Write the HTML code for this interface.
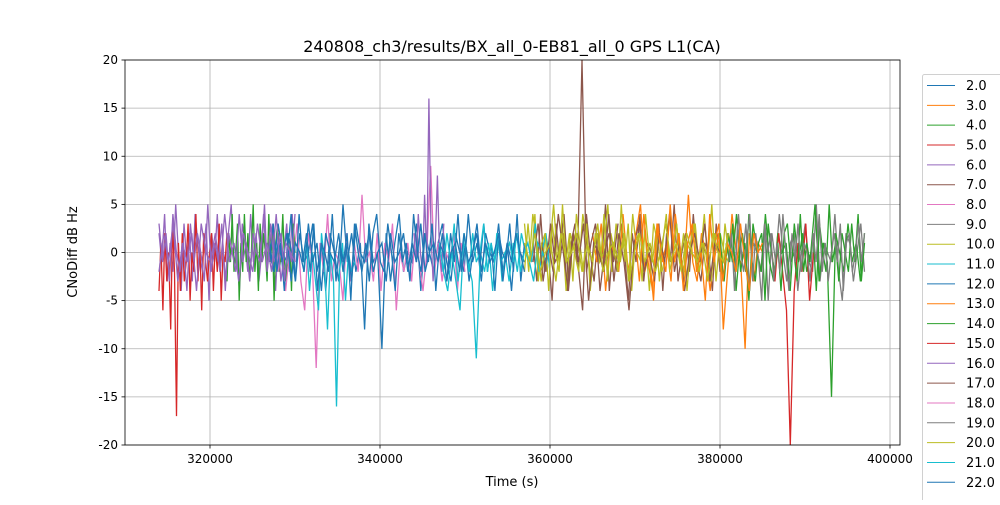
<!DOCTYPE html>
<html><head><meta charset="utf-8"><style>
body{margin:0;background:#fff;font-family:"Liberation Sans","DejaVu Sans",sans-serif;}
</style></head><body>
<svg id="chart" width="1000" height="500" xmlns="http://www.w3.org/2000/svg">
<rect width="1000" height="500" fill="#fff"/>
<text x="512" y="52" text-anchor="middle" font-size="16" fill="#000" font-family="DejaVu Sans, Liberation Sans, sans-serif">240808_ch3/results/BX_all_0-EB81_all_0 GPS L1(CA)</text>
<g id="grid"></g><g id="series"></g><g id="axes"></g><g id="legend"></g>
</svg>
<script>
const xTicks=[320000,340000,360000,380000,400000];
const yTicks=[-20,-15,-10,-5,0,5,10,15,20];
const legendLabels=["2.0","3.0","4.0","5.0","6.0","7.0","8.0","9.0","10.0","11.0","12.0","13.0","14.0","15.0","16.0","17.0","18.0","19.0","20.0","21.0","22.0"];
const seriesColors=["#1f77b4","#ff7f0e","#2ca02c","#d62728","#9467bd","#8c564b","#e377c2","#7f7f7f","#bcbd22","#17becf"];
const seriesStart=[314000,322000,314000,358000,327000,328000,365000,380000,380000,357000,331000,347000,344000,359000,386000,
327000,357000,380000,381000,314000,347000,358000,370000,327000,357000,314000];
const seriesEnd=[330000,330000,322000,380000,357000,350000,385000,397000,397000,381000,337000,360000,347500,368000,391000,
357000,381000,397000,397000,330000,360000,380000,385000,357000,381000,330000];
const seriesColorIdx=[4,2,3,5,0,6,1,7,2,8,9,9,4,5,3,0,8,2,7,4,9,5,1,0,8,4];
const seriesValues=[
[2,-1,4,-3,1,-2,5,0,-4,3,-1,2,-3,4,1,-2,0,3,-5,2,-1,4,-2,1,-3,2,5,-1,0,-4,3,1,-2,4,-1,2,-3,0,5,-2,1,3,-4,2,-1,0,3,-2,4,-1],
[-3,2,-1,4,-2,0,3,-5,1,-2,4,-1,2,-3,0,5,-2,1,-4,3,-1,2,0,-3,4,-1,2,-5,1,3,-2,0,4,-1,-3,2,1,-4,3,0],
[-4,1,-6,2,-3,0,-8,3,-2,-17,1,-4,2,-3,-1,3,-5,0,-2,4,-3,1,-6,2,-1,-3,0,2,-4,1,-2,3,-5,0,-1,2],
[1,-3,4,-2,0,-5,3,-1,2,-4,1,3,-2,-6,4,0,-3,2,-1,5,-4,1,-2,3,0,-5,2,-1,4,-3,1,0,-2,3,-4,2,-1,5,-3,0,2,-2,4,-1,-3,1,0,-4,3,-2],
[1,-2,3,0,-1,4,-3,2,-1,0,3,-2,1,-4,2,0,-3,5,-1,2,-2,1,-8,3,-1,0,-10,2,-3,1,4,-2,0,-1,3,-4,2,0,-2,1,3,-1,-3,2,0,-2,4,-1,1,-3,2,0,-1,3,-2,1,-4,2,0,-1],
[-2,1,-4,0,-1,3,-3,-6,2,-1,-12,1,-2,4,-3,0,-1,-5,2,-3,1,-2,6,-1,0,-3,2,-4,1,-1,3,-6,0,-2,1,-3,2,-1,-4,0,9,-2,1,-3,0,-1,2,-4,1,-2],
[2,-1,3,-4,1,0,-2,4,-1,-3,2,5,-2,0,-5,3,-1,1,-3,4,0,-2,6,-1,-3,2,0,-4,1,3,-8,-2,4,0,-1,-10,2,-3,1,0],
[1,-3,2,0,-2,4,-1,3,-4,1,0,-2,3,-5,2,-1,4,0,-3,1,2,-4,0,3,-1,-2,5,-3,1,0,-1,4,-2,-5,2,1,-3,0,3,-2],
[0,-3,2,-1,4,-2,1,-5,3,0,-2,4,-1,-3,2,0,1,-4,3,-1,2,-2,0,5,-3,1,-1,-15,2,0,-2,3,-1,1,-3,2],
[3,-2,4,1,-3,2,0,5,-1,3,-4,2,0,-2,4,1,-3,2,-1,0,5,-2,3,-1,2,-3,4,0,-1,2,-4,3,1,-2,0,4,-1,2,-3,1,0,3,-2,1,-1,5,-3,2,0,-1],
[-2,1,-4,0,-3,-6,2,-1,-8,0,-3,-16,-2,1,-5,0,-2,-1],
[1,-2,-4,0,-3,-6,2,-1,-3,-11,0,-2,1,-4,2,-1,0,-3,1,-2,2,0,-1,-3,1,0,2,-2],
[2,-1,4,0,-2,6,-1,16,2,-3,1,8,0,-2,3],
[1,-2,3,-1,0,4,-3,2,-1,20,-2,1,3,-4,0,2,-1,3],
[1,-3,2,-2,-6,-20,-4,1,-2,3,-5,0],
[-1,3,-2,1,-4,2,0,-3,4,-1,2,-2,3,-4,1,0,-2,4,-3,1,-1,2,-5,3,0,-2,1,-3,2,4,-1,-2,3,0,-4,2,-1,1,-3,4,0,-2,2,-1,3,-4,1,0,-3,2,-1,4,-2,1,-3,0,2,-1,3,-2,1,-4,2,0,-1,3,-2,4,-3,1],
[-2,3,-1,4,-3,1,2,-4,3,0,-2,5,-1,2,-3,4,1,-2,3,-4,0,2,-1,4,-3,2,0,-2,5,-1,3,-4,1,2,-3,4,0,-1,2,-3,1,4,-2,0,3,-1,2,-4,1,3,-2,0,4,-1,-3,2,1,-2,3,0],
[2,-3,1,-1,3,-4,0,2,-2,4,-1,-3,1,2,-5,3,0,-2,1,-4,2,3,-1,0,-3,4,-2,1,-1,2,-4,3,0,-2,5,-1,1,-3,2,0,-2,3,-1,4,-3,1],
[-1,2,-4,3,0,-2,1,4,-3,2,-1,-5,3,0,2,-3,1,-2,4,0,-4,2,-1,3,-2,1,0,-3,2,-1,4,-2,1,-3,0,2,-1,3,-4,1,2,-2,0,3,-1,2],
[3,-1,2,-3,4,0,-2,1,-4,3,-1,2,0,-3,5,-2,1,-1,3,-4,2,0,-2,4,-1,1,-3,2,0,-1,4,-2,3,-1,0,2,-3,1,-1,4],
[1,-2,2,-1,3,-3,0,1,-2,2,-1,0,3,-2,1,-1,2,-3,0,1,-1,2,-2,0,1,-1,3,-2,0,-1,1],
[-1,3,-3,1,-2,4,0,-4,2,-1,3,-5,1,0,-2,4,-3,2,-1,-6,1,3,-2,0,-3,2,-1,4,-2,1,-4,0,2,-1,3,-3,1,0],
[2,-3,4,-1,-4,3,0,-2,5,-1,2,-4,1,3,-2,0,-5,4,-1,2,-3,1,0,-2,3,-1,-4,2,0,1],
[0,-2,1,-1,2,-3,1,0,-2,3,-1,1,-4,2,0,-1,2,-2,1,-3,3,0,-1,2,-2,0,1,-3,2,-1,0,2,-2,1,-1,3,-2,0,1,-1,2,-3,0,1,-2,2,-1,0,3,-2,1,-1,0,2,-3,1,-1,2,0,-2],
[1,-1,2,-2,0,1,-3,2,-1,0,2,-2,1,-1,3,-2,0,1,-1,2,-3,0,2,-1,1,-2,0,3,-1,1,-2,2,0,-1,1,-3,2,0,-1,2],
[-2,2,-1,3,-3,1,-1,2,-4,3,0,-1,2,-2,4,-1,1,-3,2,0,-2,3,-1,1,-2,4,-3,1,0,-1]
];
const X0=125,X1=900,Y0=60,Y1=445,xmin=310000,xmax=401176,ymin=-20,ymax=20;
const xs=v=>X0+(v-xmin)/(xmax-xmin)*(X1-X0);
const ys=v=>Y1-(v-ymin)/(ymax-ymin)*(Y1-Y0);
const NS="http://www.w3.org/2000/svg";
function mk(tag,attrs,parent){const e=document.createElementNS(NS,tag);for(const k in attrs)e.setAttribute(k,attrs[k]);parent.appendChild(e);return e;}
const grid=document.getElementById('grid'),axes=document.getElementById('axes'),ser=document.getElementById('series'),leg=document.getElementById('legend');
xTicks.forEach(t=>{const x=xs(t);
 const g=mk('line',{x1:x,x2:x,y1:Y0,y2:Y1,stroke:'#b0b0b0','stroke-width':0.8},grid);
 
 
 mk('line',{x1:x,x2:x,y1:Y1,y2:Y1+3.5,stroke:'#000','stroke-width':0.8},axes);
 const l=mk('text',{x:x,y:Y1+18,'text-anchor':'middle','font-size':'12','font-family':'DejaVu Sans, Liberation Sans, sans-serif'},axes);l.textContent=t;
 
 });
yTicks.forEach(t=>{const y=ys(t);
 const g=mk('line',{x1:X0,x2:X1,y1:y,y2:y,stroke:'#b0b0b0','stroke-width':0.8},grid);
 
 
 mk('line',{x1:X0-3.5,x2:X0,y1:y,y2:y,stroke:'#000','stroke-width':0.8},axes);
 const l=mk('text',{x:X0-7,y:y+4,'text-anchor':'end','font-size':'12','font-family':'DejaVu Sans, Liberation Sans, sans-serif'},axes);l.textContent=t;
 
 });
seriesValues.forEach((vals,i)=>{const s=seriesStart[i],e=seriesEnd[i],n=vals.length;
 const pts=vals.map((v,j)=>xs(s+(e-s)*j/(n-1)).toFixed(1)+','+ys(v).toFixed(1)).join(' ');
 const p=mk('polyline',{points:pts,fill:'none',stroke:seriesColors[seriesColorIdx[i]],'stroke-width':1.3},ser);
 
 });
const fr=mk('rect',{x:X0,y:Y0,width:X1-X0,height:Y1-Y0,fill:'none',stroke:'#000','stroke-width':0.8},axes);


const xl=mk('text',{x:512,y:486,'text-anchor':'middle','font-size':'13','font-family':'DejaVu Sans, Liberation Sans, sans-serif'},axes);xl.textContent='Time (s)';


const yl=mk('text',{x:77,y:252,'text-anchor':'middle','font-size':'13','font-family':'DejaVu Sans, Liberation Sans, sans-serif',transform:'rotate(-90 77 252)'},axes);yl.textContent='CNoDiff dB Hz';


const lb=mk('rect',{x:922.5,y:74.5,width:90,height:440,rx:2,fill:'#fff',stroke:'#d0d0d0'},leg);


legendLabels.forEach((lab,i)=>{const y=85.5+i*19.84;
 mk('line',{x1:927,x2:955,y1:y,y2:y,stroke:seriesColors[i%10],'stroke-width':1},leg);
 const t=mk('text',{x:966,y:y+4.5,'font-size':'13','font-family':'DejaVu Sans, Liberation Sans, sans-serif'},leg);t.textContent=lab;
 
 });
</script>
</body></html>
